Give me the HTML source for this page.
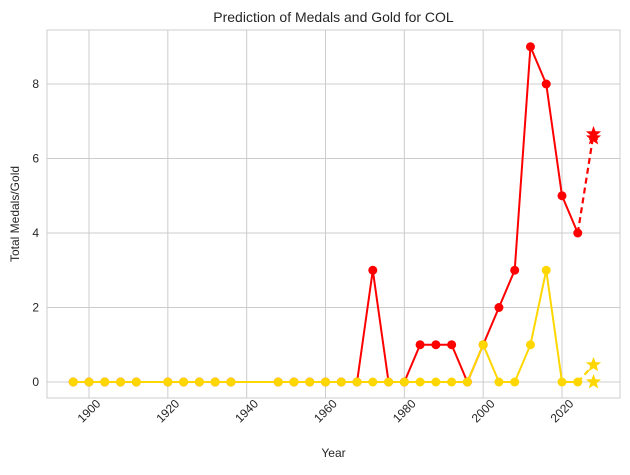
<!DOCTYPE html>
<html><head><meta charset="utf-8"><style>
body{margin:0;background:#fff;font-family:"Liberation Sans",sans-serif}
</style></head><body>
<svg id="chart" width="630" height="470" xmlns="http://www.w3.org/2000/svg"></svg>
<script>
const years=[1896,1900,1904,1908,1912,1920,1924,1928,1932,1936,1948,1952,1956,1960,1964,1968,1972,1976,1980,1984,1988,1992,1996,2000,2004,2008,2012,2016,2020,2024];
const medals=[0,0,0,0,0,0,0,0,0,0,0,0,0,0,0,0,3,0,0,1,1,1,0,1,2,3,9,8,5,4];
const gold=[0,0,0,0,0,0,0,0,0,0,0,0,0,0,0,0,0,0,0,0,0,0,0,1,0,0,1,3,0,0];
const predYear=2028;
const predMedals=[6.66,6.55];
const predGold=[0.46,0];
const xTicks=[1900,1920,1940,1960,1980,2000,2020];
const yTicks=[0,2,4,6,8];
const NS="http://www.w3.org/2000/svg";
const svg=document.getElementById('chart');
const L=47,R=620,T=30,B=398;
const X=y=>89+(y-1900)*(562-89)/120;
const Y=v=>382-v*(382-84)/8;
function mk(t,a,p){const e=document.createElementNS(NS,t);for(const k in a)e.setAttribute(k,a[k]);(p||svg).appendChild(e);return e;}
for(const t of xTicks){const g=mk('line',{x1:X(t),x2:X(t),y1:T,y2:B,stroke:'#cccccc','stroke-width':1});


const tx=mk('text',{x:X(t),y:B+17,'font-size':12,fill:'#262626','text-anchor':'middle',transform:`rotate(-45 ${X(t)} ${B+13})`});tx.textContent=t;

}
for(const t of yTicks){const g=mk('line',{x1:L,x2:R,y1:Y(t),y2:Y(t),stroke:'#cccccc','stroke-width':1});


const tx=mk('text',{x:L-8,y:Y(t)+4,'font-size':12,fill:'#262626','text-anchor':'end'});tx.textContent=t;

}
const fr=mk('rect',{x:L,y:T,width:R-L,height:B-T,fill:'none',stroke:'#cccccc'});


function star(cx,cy,r,color,name){let p=[];for(let i=0;i<10;i++){const a=-Math.PI/2+i*Math.PI/5,rr=i%2?r*0.42:r;p.push((cx+rr*Math.cos(a)).toFixed(1)+','+(cy+rr*Math.sin(a)).toFixed(1));}
const s=mk('polygon',{points:p.join(' '),fill:color});

}
function series(vals,color,name,pred){
const pl=mk('polyline',{points:years.map((y,i)=>X(y)+','+Y(vals[i])).join(' '),fill:'none',stroke:color,'stroke-width':2});


const last=years.length-1;
const d=mk('line',{x1:X(years[last]),y1:Y(vals[last]),x2:X(predYear),y2:Y(pred[0]),stroke:color,'stroke-width':2.2,'stroke-dasharray':'6,4'});


years.forEach((y,i)=>{const c=mk('circle',{cx:X(y),cy:Y(vals[i]),r:4.5,fill:color});

});
pred.forEach(v=>star(X(predYear),Y(v),8,color,name+'-prediction-star'));}
series(medals,'#ff0000','medals',predMedals);
series(gold,'#ffd700','gold',predGold);
const ti=mk('text',{x:(L+R)/2,y:22,'font-size':14,fill:'#262626','text-anchor':'middle'});ti.textContent='Prediction of Medals and Gold for COL';


const xl=mk('text',{x:(L+R)/2,y:457,'font-size':12,fill:'#262626','text-anchor':'middle'});xl.textContent='Year';


const yl=mk('text',{x:19,y:(T+B)/2,'font-size':12,fill:'#262626','text-anchor':'middle',transform:`rotate(-90 19 ${(T+B)/2})`});yl.textContent='Total Medals/Gold';


</script>
</body></html>
